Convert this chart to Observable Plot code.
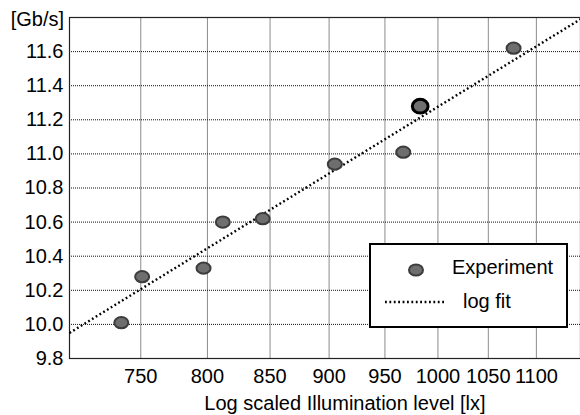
<!DOCTYPE html>
<html><head><meta charset="utf-8">
<script src="https://cdn.jsdelivr.net/npm/d3@7"></script>
<script src="https://cdn.jsdelivr.net/npm/@observablehq/plot@0.6"></script>
<style>body{margin:0;background:#fff} svg{display:block}</style>
</head><body><div id="chart"></div>
<script>
// Data
const illum = [736, 751, 797, 812, 844, 905, 967, 983, 1076];
const rate = [10.01, 10.28, 10.33, 10.60, 10.62, 10.94, 11.01, 11.28, 11.62];
const highlighted = [false, false, false, false, false, false, false, true, false];
const fitIllum = [700, 1148];
const fitRate = [9.95, 11.79];
const xTicks = [750, 800, 850, 900, 950, 1000, 1050, 1100];
const yTicks = [9.8, 10.0, 10.2, 10.4, 10.6, 10.8, 11.0, 11.2, 11.4, 11.6];
const yLabel = "[Gb/s]";
const xLabel = "Log scaled Illumination level [lx]";
const legendLabels = ["Experiment", "log fit"];

const points = illum.map((x, i) => ({x, y: rate[i], hi: highlighted[i]}));
const fit = fitIllum.map((x, i) => ({x, y: fitRate[i]}));

// ellipse symbol
function ellipseSymbol(kx, ky) {
  return {
    draw(ctx, size) {
      const r = Math.sqrt(size / Math.PI);
      const rx = r * kx, ry = r * ky, k = 0.5523;
      ctx.moveTo(rx, 0);
      ctx.bezierCurveTo(rx, ry * k, rx * k, ry, 0, ry);
      ctx.bezierCurveTo(-rx * k, ry, -rx, ry * k, -rx, 0);
      ctx.bezierCurveTo(-rx, -ry * k, -rx * k, -ry, 0, -ry);
      ctx.bezierCurveTo(rx * k, -ry, rx, -ry * k, rx, 0);
      ctx.closePath();
    }
  };
}

const FONT = "'Liberation Sans', Arial, sans-serif";

const chart = Plot.plot({
  width: 580,
  height: 415,
  marginLeft: 69,
  marginRight: 0,
  marginTop: 17,
  marginBottom: 57,
  style: {fontFamily: FONT, fontSize: "20px", color: "#000", background: "#fff"},
  x: {type: "log", domain: [700, 1148], ticks: xTicks, tickFormat: d => String(d)},
  y: {domain: [9.8, 11.8], ticks: yTicks, tickFormat: d => d.toFixed(1)},
  marks: [
    Plot.ruleX(xTicks, {stroke: "#8c8c8c", strokeWidth: 1}),
    Plot.ruleY(yTicks.filter(d => d > 9.8), {stroke: "#111", strokeWidth: 1, strokeDasharray: "1,1"}),
    Plot.axisX({ticks: xTicks, tickSize: 0, tickPadding: 10, label: null, fontSize: 20, tickFormat: d => String(d)}),
    Plot.axisY({ticks: yTicks, tickSize: 0, tickPadding: 6, label: null, fontSize: 20, tickFormat: d => d.toFixed(1)}),
    Plot.frame({stroke: "#222", strokeWidth: 1.2}),
    Plot.line(fit, {x: "x", y: "y", stroke: "#000", strokeWidth: 2.4, strokeDasharray: "1.8,2.6", strokeLinecap: "butt"}),
    Plot.dot(points.filter(d => !d.hi), {x: "x", y: "y", r: 6.2, symbol: ellipseSymbol(1.13, 0.9), fill: "#6e6e6e", stroke: "#3c3c3c", strokeWidth: 2}),
    Plot.dot(points.filter(d => d.hi), {x: "x", y: "y", r: 7.3, symbol: ellipseSymbol(1.08, 0.95), fill: "#707070", stroke: "#000", strokeWidth: 3})
  ]
});

document.getElementById("chart").appendChild(chart);

const svg = d3.select(chart);
svg.append("text").attr("x", 64).attr("y", 26).attr("text-anchor", "end")
  .style("font-family", FONT).style("font-size", "20px").text(yLabel);
svg.append("text").attr("x", 345).attr("y", 410).attr("text-anchor", "middle")
  .style("font-family", FONT).style("font-size", "20px").text(xLabel);

// legend
const lg = svg.append("g");
lg.append("rect").attr("x", 370).attr("y", 244).attr("width", 197).attr("height", 83)
  .attr("fill", "#fff").attr("stroke", "#000").attr("stroke-width", 2);
lg.append("path").attr("transform", "translate(416,270)")
  .attr("d", () => { const p = d3.path(); ellipseSymbol(1.13, 0.9).draw(p, Math.PI * 6.2 * 6.2); return p.toString(); })
  .attr("fill", "#6e6e6e").attr("stroke", "#3c3c3c").attr("stroke-width", 2);
lg.append("text").attr("x", 452).attr("y", 274).attr("text-anchor", "start")
  .style("font-family", FONT).style("font-size", "20px").text(legendLabels[0]);
lg.append("line").attr("x1", 385).attr("x2", 446).attr("y1", 302).attr("y2", 302)
  .attr("stroke", "#000").attr("stroke-width", 2.4).attr("stroke-dasharray", "1.8,2.6");
lg.append("text").attr("x", 463).attr("y", 308).attr("text-anchor", "start")
  .style("font-family", FONT).style("font-size", "20px").text(legendLabels[1]);
</script>
</body></html>
